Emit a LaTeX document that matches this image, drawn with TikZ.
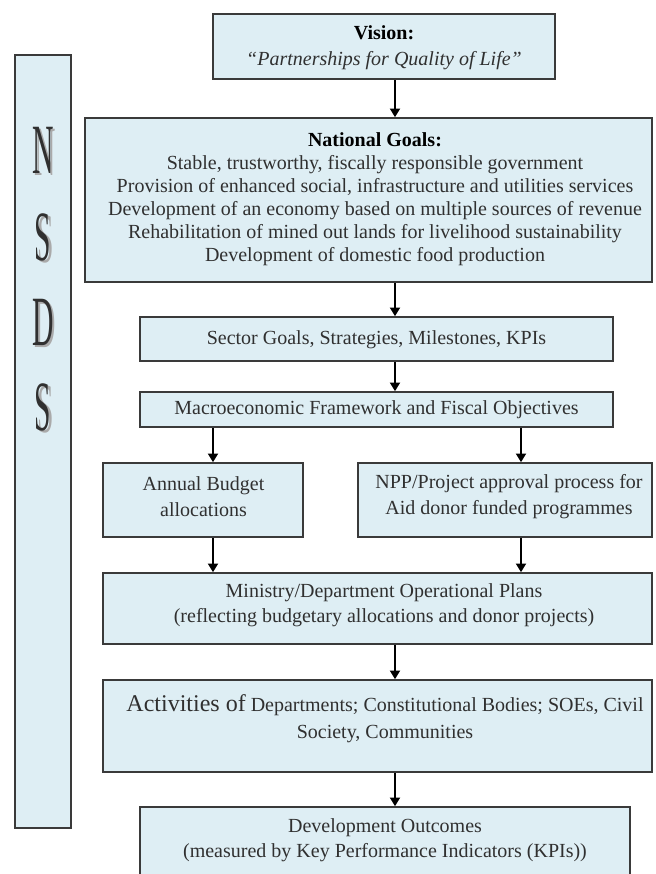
\documentclass[tikz,border=0pt]{standalone}
\usepackage{fontspec}
\usepackage{graphicx}
\setmainfont{Liberation Serif}
\usetikzlibrary{arrows.meta,fit}
\definecolor{boxfill}{RGB}{222,238,244}
\definecolor{boxline}{RGB}{58,58,58}
\definecolor{ink}{RGB}{48,48,48}
\definecolor{shade}{RGB}{170,170,170}

\begin{document}
\begin{tikzpicture}[x=0.75pt,y=-0.75pt,
  box/.style={draw=boxline, line width=1.2pt, fill=boxfill, inner sep=0pt},
  txt/.style={inner sep=0pt, align=center, text=ink,
    font=\fontsize{15}{19}\selectfont},
  arr/.style={draw=black, line width=1.4pt,
    -{Triangle[width=7.5pt,length=6.5pt]}},
  letter/.style={text=ink, inner sep=0pt,
    font=\fontsize{53}{53}\selectfont},
  lettershade/.style={letter, text=shade}]

\useasboundingbox (0,0) rectangle (656,874);

% NSDS side bar
\node[box, fit={(15,55) (71,828)}] (nsds) {};
\foreach \ch/\yy/\nm in {N/150/n1, S/237/n2, D/322/n3, S/407/n4} {
  \node[lettershade] (\nm s) at (45.5,\yy+2) {\scalebox{0.42}[1]{\ch}};
  \node[letter] (\nm) at (43,\yy) {\scalebox{0.42}[1]{\ch}};
}

% boxes of the main column
\node[box, line width=1.8pt, fit={(213,14) (555,79)}] (vision) {};
\node[box, fit={(85,118) (652,282)}]  (goals) {};
\node[box, fit={(140,317) (613,361)}] (sector) {};
\node[box, fit={(140,392) (613,427)}] (macro) {};
\node[box, fit={(103,463) (303,537)}] (annual) {};
\node[box, fit={(358,463) (652,537)}] (npp) {};
\node[box, fit={(103,573) (652,644)}] (ministry) {};
\node[box, fit={(103,680) (652,772)}] (activities) {};
\node[box, fit={(140,807) (630,878)}] (outcomes) {};

% texts
\node[txt, font=\fontsize{15}{19.5}\selectfont] (visiontext) at (384,48)
  {{\bfseries\color{black}Vision:}\\ {\itshape “Partnerships for Quality of Life”}};

\node[txt, font=\fontsize{15}{17.25}\selectfont] (goalstext) at (375,199.5)
  {{\bfseries\color{black}National Goals:}\\
   Stable, trustworthy, fiscally responsible government\\
   Provision of enhanced social, infrastructure and utilities services\\
   Development of an economy based on multiple sources of revenue\\
   Rehabilitation of mined out lands for livelihood sustainability\\
   Development of domestic food production};

\node[txt] (sectortext) at (376.5,340)
  {Sector Goals, Strategies, Milestones, KPIs};

\node[txt] (macrotext) at (376.5,410)
  {Macroeconomic Framework and Fiscal Objectives};

\node[txt, font=\fontsize{15}{19.5}\selectfont] (annualtext) at (203.5,496.5)
  {Annual Budget\\ allocations};

\node[txt, font=\fontsize{15}{19.5}\selectfont] (npptext) at (509,496.5)
  {NPP/Project approval process for\\ Aid donor funded programmes};

\node[txt, font=\fontsize{15}{18.75}\selectfont] (ministrytext) at (384,605.5)
  {Ministry/Department Operational Plans\\
   (reflecting budgetary allocations and donor projects)};

\node[txt, font=\fontsize{15}{20}\selectfont] (activitiestext) at (385,718.5)
  {{\fontsize{18}{20}\selectfont Activities of} Departments; Constitutional Bodies; SOEs, Civil\\
   Society, Communities};

\node[txt, font=\fontsize{15}{18.75}\selectfont] (outcomestext) at (385,840.5)
  {Development Outcomes\\
   (measured by Key Performance Indicators (KPIs))};

% arrow columns
\coordinate (mid) at (395,0);
\coordinate (lft) at (213,0);
\coordinate (rgt) at (521,0);

\draw[arr] (vision.south -| mid) -- (goals.north -| mid);
\draw[arr] (goals.south -| mid) -- (sector.north -| mid);
\draw[arr] (sector.south -| mid) -- (macro.north -| mid);
\draw[arr] (macro.south -| lft) -- (annual.north -| lft);
\draw[arr] (macro.south -| rgt) -- (npp.north -| rgt);
\draw[arr] (annual.south -| lft) -- (ministry.north -| lft);
\draw[arr] (npp.south -| rgt) -- (ministry.north -| rgt);
\draw[arr] (ministry.south -| mid) -- (activities.north -| mid);
\draw[arr] (activities.south -| mid) -- (outcomes.north -| mid);
\end{tikzpicture}
\end{document}
